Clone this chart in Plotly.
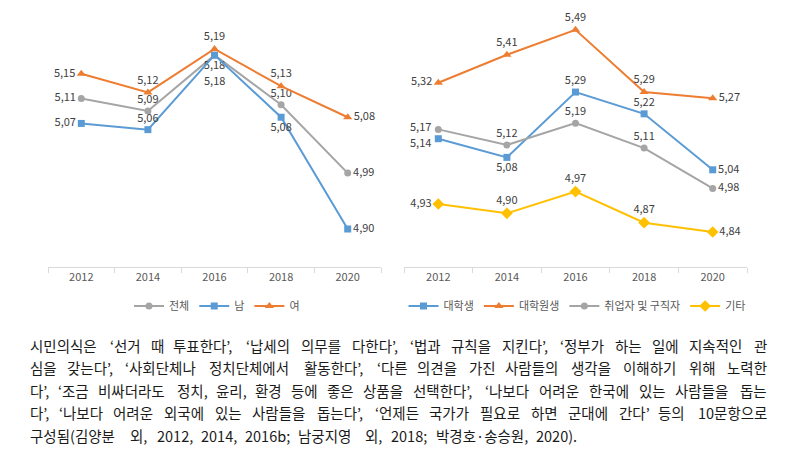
import plotly.graph_objects as go

years = ["2012", "2014", "2016", "2018", "2020"]

# left chart
total = [5.11, 5.09, 5.18, 5.10, 4.99]
male = [5.07, 5.06, 5.18, 5.08, 4.90]
female = [5.15, 5.12, 5.19, 5.13, 5.08]

# right chart
undergrad = [5.14, 5.08, 5.29, 5.22, 5.04]
grad = [5.32, 5.41, 5.49, 5.29, 5.27]
worker = [5.17, 5.12, 5.19, 5.11, 4.98]
other = [4.93, 4.90, 4.97, 4.87, 4.84]

caption_lines = [
    "시민의식은 ‘선거 때 투표한다’, ‘납세의 의무를 다한다’, ‘법과 규칙을 지킨다’, ‘정부가 하는 일에 지속적인 관",
    "심을 갖는다’, ‘사회단체나 정치단체에서 활동한다’, ‘다른 의견을 가진 사람들의 생각을 이해하기 위해 노력한",
    "다’, ‘조금 비싸더라도 정치, 윤리, 환경 등에 좋은 상품을 선택한다’, ‘나보다 어려운 한국에 있는 사람들을 돕는",
    "다’, ‘나보다 어려운 외국에 있는 사람들을 돕는다’, ‘언제든 국가가 필요로 하면 군대에 간다’ 등의 10문항으로",
    "구성됨(김양분 외, 2012, 2014, 2016b; 남궁지영 외, 2018; 박경호·송승원, 2020).",
]

GRAY, BLUE, ORANGE, YELLOW = "#A5A5A5", "#5B9BD5", "#ED7D31", "#FFC000"
FONT = "Noto Sans CJK KR"
W, H = 792, 457
LABEL_FONT = dict(family=FONT, size=11, color="#404040")


def fmt(vals):
    return [f"{v:.2f}".replace(".", ",") for v in vals]


def series(name, vals, color, symbol, size, positions, xa, ya, legend, texts=None):
    return go.Scatter(
        x=years, y=vals, name=name, mode="lines+markers+text",
        line=dict(color=color, width=2),
        marker=dict(symbol=symbol, size=size, color=color),
        text=texts if texts is not None else fmt(vals),
        textposition=positions,
        textfont=LABEL_FONT,
        cliponaxis=False, xaxis=xa, yaxis=ya, legend=legend,
    )


L, R, T, B = "middle left", "middle right", "top center", "bottom center"

male_text = fmt(male)
male_text[2] = ""
undergrad_text = fmt(undergrad)
undergrad_text[0] = ""
worker_text = fmt(worker)
worker_text[0] = ""

fig = go.Figure()
fig.add_trace(series("전체", total, GRAY, "circle", 7, [L, T, B, T, R], "x", "y", "legend"))
fig.add_trace(series("남", male, BLUE, "square", 7, [L, T, B, B, R], "x", "y", "legend", male_text))
fig.add_trace(series("여", female, ORANGE, "triangle-up", 8, [L, T, T, T, R], "x", "y", "legend"))

fig.add_trace(series("대학생", undergrad, BLUE, "square", 7, [L, B, T, T, R], "x2", "y2", "legend2", undergrad_text))
fig.add_trace(series("대학원생", grad, ORANGE, "triangle-up", 8, [L, T, T, T, R], "x2", "y2", "legend2"))
fig.add_trace(series("취업자 및 구직자", worker, GRAY, "circle", 7, [L, T, T, T, R], "x2", "y2", "legend2", worker_text))
fig.add_trace(series("기타", other, YELLOW, "diamond", 9, [L, T, T, T, R], "x2", "y2", "legend2"))

annotations = [
    # second 5,18 label for 남 2016 (below the 전체 one)
    dict(x=2, y=male[2], xref="x", yref="y", text=fmt(male)[2], showarrow=False,
         yshift=-25, font=LABEL_FONT),
    # tight pair at 2012 on the right chart
    dict(x=0, y=worker[0], xref="x2", yref="y2", text=fmt(worker)[0], showarrow=False,
         xanchor="right", xshift=-5, yshift=3, font=LABEL_FONT),
    dict(x=0, y=undergrad[0], xref="x2", yref="y2", text=fmt(undergrad)[0], showarrow=False,
         xanchor="right", xshift=-5, yshift=-3, font=LABEL_FONT),
]


# caption, justified word by word
def cw(ch):
    if "\uac00" <= ch <= "\ud7a3":
        return 1.0
    if ch.isdigit():
        return 0.555
    if ch in "‘’',.;:":
        return 0.24
    if ch in "()":
        return 0.30
    if ch == "·":
        return 0.28
    if ch.isalpha():
        return 0.56
    return 0.5


CAP_FS = 14.5
line_y = [345, 367.5, 390, 412.5, 435]
line_end = [768, 768, 768, 768, 578]
x0 = 29
for text, yy, xe in zip(caption_lines, line_y, line_end):
    words = text.split(" ")
    widths = [sum(cw(c) for c in w_) * CAP_FS for w_ in words]
    gap = (xe - x0 - sum(widths)) / (len(words) - 1)
    pos = x0
    for i, (wd, wdt) in enumerate(zip(words, widths)):
        if i == len(words) - 1:
            xa, anchor = xe + 1, "right"
        else:
            xa, anchor = pos - 1, "left"
        annotations.append(dict(
            x=xa / W, y=1 - yy / H, xref="paper", yref="paper", text=wd,
            showarrow=False, xanchor=anchor, yanchor="middle",
            font=dict(family=FONT, size=CAP_FS, color="#1a1a1a"),
        ))
        pos += wdt + gap

axis_common = dict(
    type="category", categoryorder="array", categoryarray=years,
    range=[-0.5, 4.5], showline=True, linecolor="#D9D9D9", linewidth=1,
    ticks="outside", tickson="boundaries", tickcolor="#D9D9D9", ticklen=5,
    showgrid=False, zeroline=False, fixedrange=True,
    tickfont=dict(family=FONT, size=11, color="#595959"),
)
ybot = 1 - 267 / H

fig.update_layout(
    width=W, height=H, margin=dict(l=0, r=0, t=0, b=0),
    paper_bgcolor="white", plot_bgcolor="white",
    xaxis=dict(domain=[48 / W, 381 / W], anchor="y", **axis_common),
    xaxis2=dict(domain=[404 / W, 747 / W], anchor="y2", **axis_common),
    yaxis=dict(domain=[ybot, 1], range=[4.8388, 5.2688], visible=False, fixedrange=True),
    yaxis2=dict(domain=[ybot, 1], range=[4.7275, 5.586], visible=False, fixedrange=True),
    legend=dict(orientation="h", x=217 / W, xanchor="center", y=1 - 306 / H, yanchor="middle",
                font=dict(family=FONT, size=11, color="#595959"), itemwidth=30,
                bgcolor="rgba(0,0,0,0)"),
    legend2=dict(orientation="h", x=577 / W, xanchor="center", y=1 - 306 / H, yanchor="middle",
                 font=dict(family=FONT, size=11, color="#595959"), itemwidth=30,
                 bgcolor="rgba(0,0,0,0)"),
    annotations=annotations,
    showlegend=True,
    hovermode=False,
)

fig.write_html("out.html", config={"displayModeBar": False},
               post_script="document.body.style.margin='0';")
